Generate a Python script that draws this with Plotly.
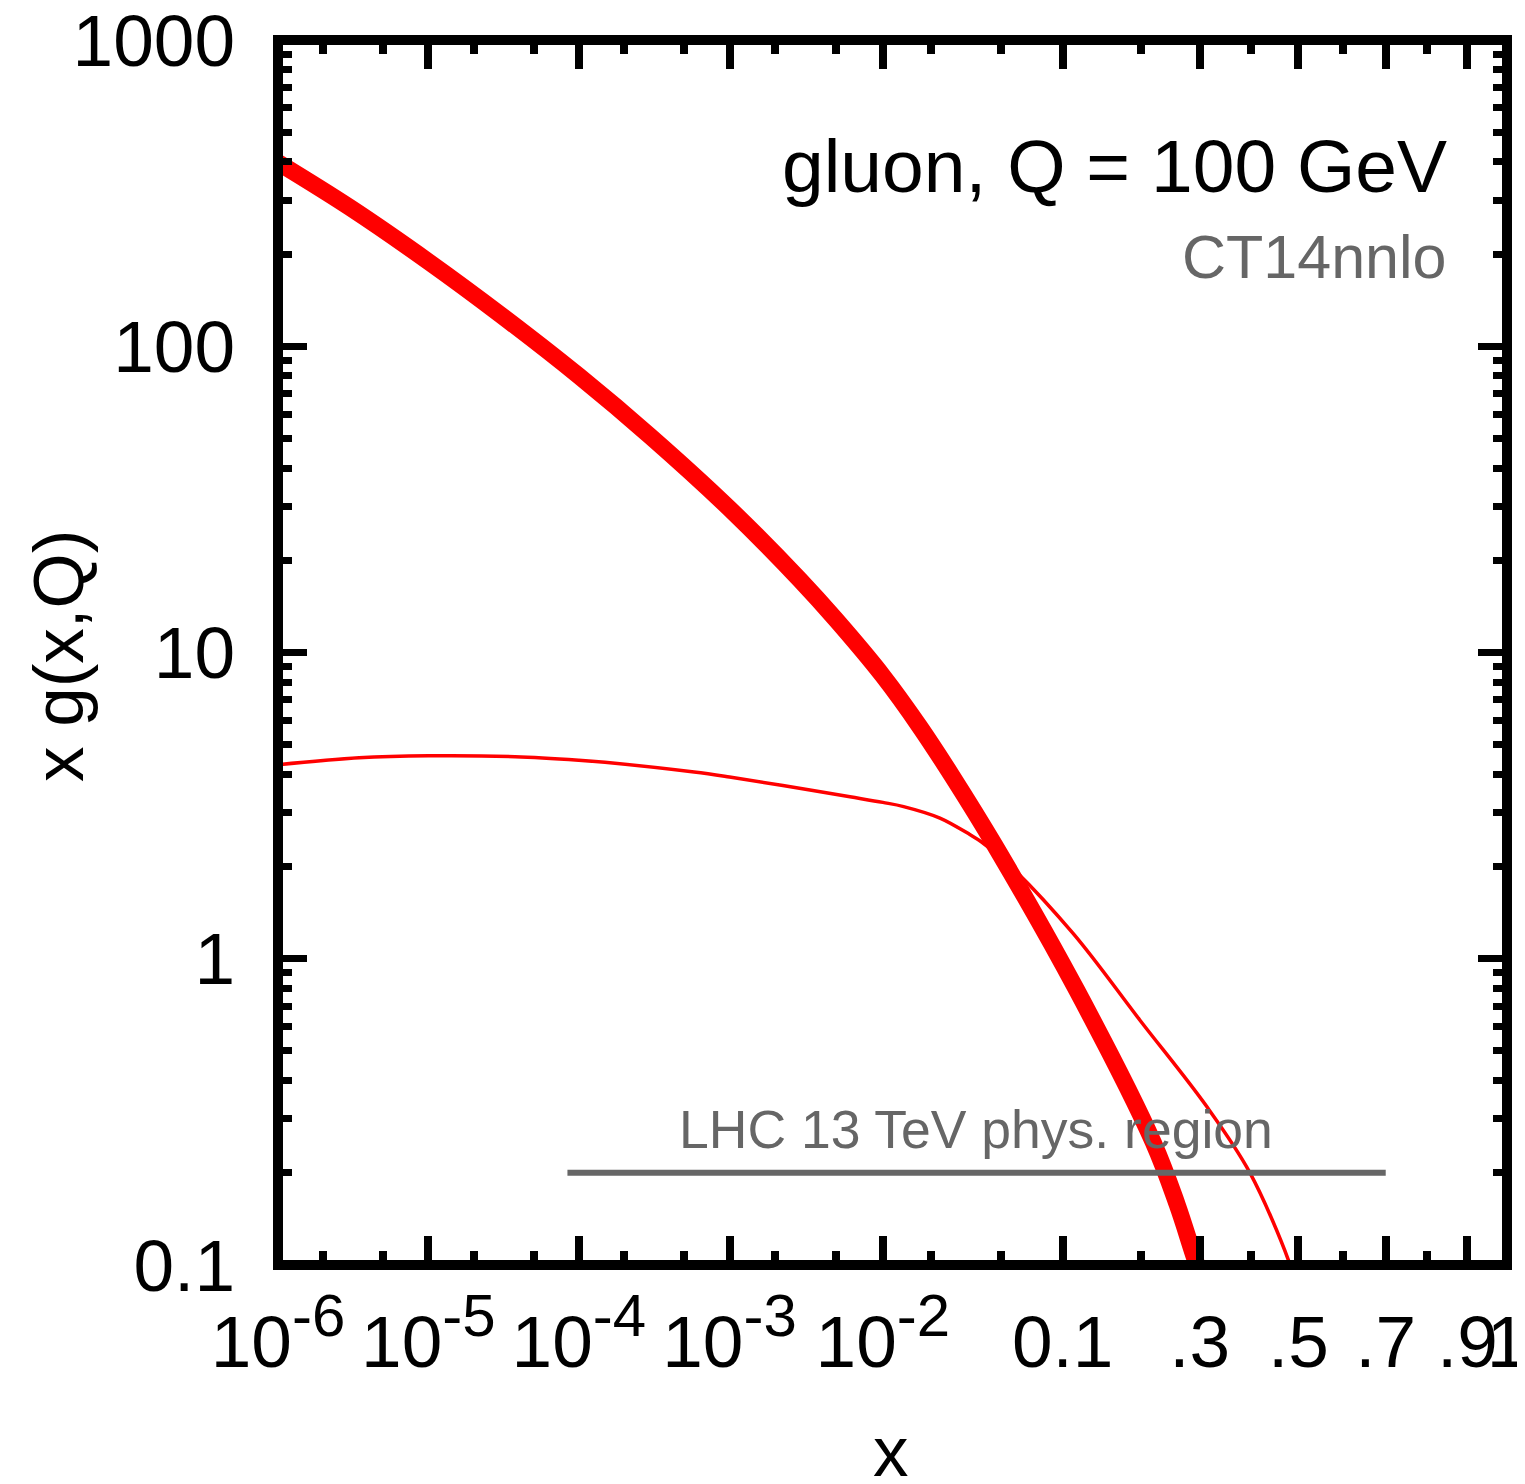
import math
import plotly.graph_objects as go

# ---------------- data ----------------
# thick red curve: gluon x*g(x,Q) at Q = 100 GeV
x_band = [1e-6, 3e-6, 1e-5, 3e-5, 1e-4, 3e-4, 1e-3, 2.9e-3, 5e-3, 1e-2,
          0.017, 0.0265, 0.0462, 0.115, 0.2197, 0.26, 0.291, 0.30]
g_band = [398, 284, 189, 127, 80, 50.7, 29.5, 17.3, 12.8, 8.39,
          5.72, 3.96, 2.35, 0.79, 0.252, 0.157, 0.105, 0.095]

# thin red curve
x_thin = [1e-6, 3.46e-6, 1e-5, 3.77e-5, 1e-4, 1.49e-4, 5.83e-4, 1e-3, 2.25e-3,
          6.16e-3, 1e-2, 0.0135, 0.0225, 0.0338, 0.039, 0.0536, 0.111, 0.199,
          0.313, 0.3975, 0.478, 0.49]
g_thin = [4.30, 4.53, 4.60, 4.57, 4.45, 4.38, 4.07, 3.92, 3.68,
          3.38, 3.24, 3.14, 2.88, 2.54, 2.41, 2.06, 1.21, 0.63,
          0.329, 0.2, 0.104, 0.09]

# LHC 13 TeV physical region marker
x_region = [8.4e-5, 0.7]
g_region = [0.2, 0.2]

# axis ticks
SUP = '<sup><span style="font-size:60px">%s</span></sup>'
x_major = [1e-6, 1e-5, 1e-4, 1e-3, 1e-2, 0.1, 0.3, 0.5, 0.7, 0.9, 1.0]
x_major_text = ["10" + SUP % "-6", "10" + SUP % "-5", "10" + SUP % "-4",
                "10" + SUP % "-3", "10" + SUP % "-2", "0.1", ".3", ".5",
                ".7", ".9", "1"]
x_minor = [2e-6, 5e-6, 2e-5, 5e-5, 2e-4, 5e-4, 2e-3, 5e-3, 2e-2, 5e-2,
           0.2, 0.4, 0.6, 0.8]
y_major = [0.1, 1, 10, 100, 1000]
y_major_text = ["0.1", "1", "10", "100", "1000"]
y_minor = [m * d for d in (0.1, 1, 10, 100) for m in range(2, 10)]


# x scale of the original: ln(x) + 5x  (expressed in decades)
def xs(v):
    return math.log10(v) + 5.0 * v / math.log(10)


def xs_list(vals):
    return [xs(v) for v in vals]


FONT = "Liberation Sans, Arial, Helvetica, sans-serif"
RED = "#ff0000"
GREY = "#666666"

OFF = 8  # browser default body margin
W, H = 1525 - OFF, 1484 - OFF
PLOT_L, PLOT_R, PLOT_T, PLOT_B = 278, 1507, 40, 1265  # page pixels
L = PLOT_L - OFF
T = PLOT_T - OFF
R = W - (PLOT_R - OFF)
B = H - (PLOT_B - OFF)
PW = PLOT_R - PLOT_L
PH = PLOT_B - PLOT_T


def px_x(p):
    return (p - PLOT_L) / PW


def px_y(p):
    return (PLOT_B - p) / PH


fig = go.Figure()

fig.add_trace(go.Scatter(x=xs_list(x_thin), y=g_thin, mode="lines",
                         line=dict(color=RED, width=3.5, shape="spline", smoothing=1.0),
                         hoverinfo="skip", showlegend=False))
fig.add_trace(go.Scatter(x=xs_list(x_band), y=g_band, mode="lines",
                         line=dict(color=RED, width=17, shape="spline", smoothing=1.0),
                         hoverinfo="skip", showlegend=False))
fig.add_trace(go.Scatter(x=xs_list(x_region), y=g_region, mode="lines",
                         line=dict(color=GREY, width=6),
                         hoverinfo="skip", showlegend=False))

fig.update_layout(
    width=W, height=H, autosize=False,
    margin=dict(l=L, r=R, t=T, b=B, pad=0),
    paper_bgcolor="white", plot_bgcolor="white",
    font=dict(family=FONT, color="black", size=70),
    xaxis=dict(
        range=[xs(1e-6), xs(1.0)], automargin=False,
        showgrid=False, zeroline=False, showline=False,
        tickmode="array", tickvals=xs_list(x_major), ticktext=x_major_text,
        ticks="inside", ticklen=29, tickwidth=8, tickcolor="black",
        mirror="ticks", tickangle=0, ticklabeloverflow="allow",
        tickfont=dict(family=FONT, size=73, color="black"),
        ticklabelstandoff=28,
        minor=dict(tickmode="array", tickvals=xs_list(x_minor),
                   ticks="inside", ticklen=14, tickwidth=8, tickcolor="black",
                   showgrid=False),
    ),
    yaxis=dict(
        type="log", range=[-1, 3], automargin=False,
        showgrid=False, zeroline=False, showline=False,
        tickmode="array", tickvals=y_major, ticktext=y_major_text,
        ticks="inside", ticklen=29, tickwidth=7, tickcolor="black",
        mirror="ticks", ticklabeloverflow="allow",
        tickfont=dict(family=FONT, size=73, color="black"),
        ticklabelstandoff=42,
        minor=dict(tickmode="array", tickvals=y_minor,
                   ticks="inside", ticklen=14, tickwidth=7, tickcolor="black",
                   showgrid=False),
    ),
    shapes=[dict(type="rect", xref="paper", yref="paper", x0=0, x1=1, y0=0, y1=1,
                 line=dict(color="black", width=10), fillcolor="rgba(0,0,0,0)",
                 layer="above")],
    annotations=[
        dict(text="gluon, Q = 100 GeV", xref="paper", yref="paper",
             x=px_x(1449), y=px_y(166), xanchor="right", yanchor="middle",
             showarrow=False, font=dict(family=FONT, size=75, color="black")),
        dict(text="CT14nnlo", xref="paper", yref="paper",
             x=px_x(1449), y=px_y(257), xanchor="right", yanchor="middle",
             showarrow=False, font=dict(family=FONT, size=61, color=GREY)),
        dict(text="LHC 13 TeV phys. region", xref="paper", yref="paper",
             x=px_x(976), y=px_y(1129), xanchor="center", yanchor="middle",
             showarrow=False, font=dict(family=FONT, size=53.5, color=GREY)),
        dict(text="x g(x,Q)", xref="paper", yref="paper",
             x=px_x(58), y=px_y(656), xanchor="center", yanchor="middle",
             textangle=-90, showarrow=False,
             font=dict(family=FONT, size=71, color="black")),
        dict(text="x", xref="paper", yref="paper",
             x=px_x(891), y=px_y(1451), xanchor="center", yanchor="middle",
             showarrow=False, font=dict(family=FONT, size=71, color="black")),
    ],
)

fig.write_html("out.html")
